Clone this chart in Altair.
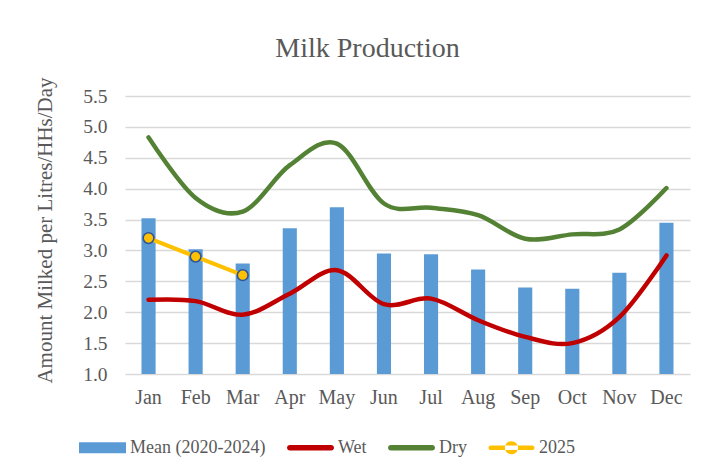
import altair as alt
import pandas as pd

months = ["Jan", "Feb", "Mar", "Apr", "May", "Jun", "Jul", "Aug", "Sep", "Oct", "Nov", "Dec"]
mean_2020_2024 = [3.52, 3.02, 2.79, 3.36, 3.70, 2.95, 2.94, 2.69, 2.40, 2.38, 2.64, 3.45]
wet = [2.20, 2.18, 1.96, 2.30, 2.68, 2.13, 2.22, 1.87, 1.60, 1.50, 1.92, 2.92]
dry = [4.83, 3.85, 3.63, 4.38, 4.73, 3.76, 3.69, 3.57, 3.19, 3.26, 3.34, 4.01]
y2025_months = ["Jan", "Feb", "Mar"]
y2025 = [3.2, 2.9, 2.6]
y_ticks = [1.0, 1.5, 2.0, 2.5, 3.0, 3.5, 4.0, 4.5, 5.0, 5.5]

series = ["Mean (2020-2024)", "Wet", "Dry", "2025"]
colors = ["#5B9BD5", "#C00000", "#548235", "#FFC000"]
legend_shapes = [
    "M-1,-0.23H1V0.23H-1Z",
    "M-0.88,-0.12H0.88A0.12,0.12 0 0,1 0.88,0.12H-0.88A0.12,0.12 0 0,1 -0.88,-0.12Z",
    "M-0.88,-0.12H0.88A0.12,0.12 0 0,1 0.88,0.12H-0.88A0.12,0.12 0 0,1 -0.88,-0.12Z",
    "M-0.88,-0.1H0.88A0.1,0.1 0 0,1 0.88,0.1H-0.88A0.1,0.1 0 0,1 -0.88,-0.1Z "
    "M-0.28,0A0.28,0.28 0 1,0 0.28,0A0.28,0.28 0 1,0 -0.28,0Z",
]

FONT = "Liberation Serif"
TXT = "#595959"

df_mean = pd.DataFrame({"month": months, "value": mean_2020_2024})
df_wet = pd.DataFrame({"month": months, "value": wet})
df_dry = pd.DataFrame({"month": months, "value": dry})
df_2025 = pd.DataFrame({"month": y2025_months, "value": y2025})
df_leg = pd.DataFrame({"month": [months[0]] * 4, "value": [0.0] * 4, "series": series})

x_enc = alt.X(
    "month:N",
    sort=months,
    scale=alt.Scale(paddingInner=0.7, paddingOuter=0.35),
    axis=alt.Axis(
        title=None, labelAngle=0, ticks=False, tickSize=0, domain=False, grid=False,
        labelFont=FONT, labelFontSize=20, labelColor=TXT, labelPadding=13,
    ),
)
y_scale = alt.Scale(domain=[1.0, 5.5], zero=False, nice=False)
y_enc = alt.Y(
    "value:Q",
    scale=y_scale,
    axis=alt.Axis(
        title="Amount Milked per Litres/HHs/Day",
        values=y_ticks, format=".1f", ticks=False, tickSize=0, domain=False,
        grid=True, gridColor="#D9D9D9", gridWidth=1.3, labelOverlap=False,
        labelFont=FONT, labelFontSize=19.5, labelColor=TXT, labelPadding=18,
        titleFont=FONT, titleFontSize=21, titleColor=TXT, titleFontWeight="normal",
        titlePadding=27, titleY=134,
    ),
)

bars = alt.Chart(df_mean).mark_bar(color=colors[0]).encode(
    x=x_enc, y=y_enc, y2=alt.datum(1.0)
)
wet_line = alt.Chart(df_wet).mark_line(
    color=colors[1], strokeWidth=4.5, interpolate="cardinal", strokeCap="round"
).encode(x=x_enc, y=y_enc)
dry_line = alt.Chart(df_dry).mark_line(
    color=colors[2], strokeWidth=4.5, interpolate="cardinal", strokeCap="round"
).encode(x=x_enc, y=y_enc)
line_2025 = alt.Chart(df_2025).mark_line(
    color=colors[3], strokeWidth=4.2,
    point=alt.OverlayMarkDef(filled=True, fill=colors[3], stroke="#2F5597",
                             strokeWidth=1.6, size=115, opacity=1),
).encode(x=x_enc, y=y_enc)

leg = alt.Legend(
    title=None, orient="none", legendX=-46, legendY=328, direction="horizontal",
    symbolSize=2209, labelFont=FONT, labelFontSize=18, labelColor=TXT,
    labelOffset=4, columnPadding=21, padding=0, symbolStrokeWidth=0,
)
legend_layer = alt.Chart(df_leg).mark_point(filled=True, opacity=1, clip=True, strokeWidth=0).encode(
    x=x_enc,
    y=y_enc,
    fill=alt.Fill("series:N", scale=alt.Scale(domain=series, range=colors), legend=leg),
    shape=alt.Shape("series:N", scale=alt.Scale(domain=series, range=legend_shapes), legend=leg),
)

chart = alt.layer(bars, wet_line, dry_line, line_2025, legend_layer).properties(
    width=565,
    height=278,
    title=alt.TitleParams(
        "Milk Production", font=FONT, fontSize=28, fontWeight="normal", color=TXT,
        anchor="middle", dx=-40, offset=14,
    ),
    autosize=alt.AutoSizeParams(type="none"),
    padding={"left": 117, "top": 88, "right": 22, "bottom": 92},
).configure(background="white").configure_view(stroke=None)

chart.save("out.html", embed_options={"renderer": "svg", "actions": False})
